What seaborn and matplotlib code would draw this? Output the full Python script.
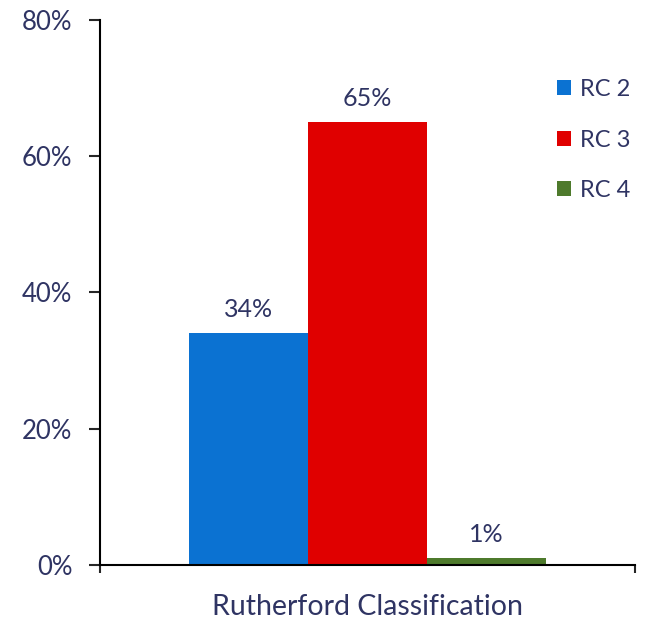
import matplotlib
matplotlib.use("Agg")
import matplotlib.pyplot as plt
import seaborn as sns
import pandas as pd

category = ["Rutherford Classification"]
groups = ["RC 2", "RC 3", "RC 4"]
shares = [34, 65, 1]
palette = ["#0B72D2", "#E00000", "#4E7A2C"]
text_color = "#2F3463"

sns.set_style("white")
plt.rcParams["font.family"] = ["Lato", "DejaVu Sans"]

df = pd.DataFrame({"cat": category * len(groups), "group": groups, "share": shares})

fig = plt.figure(figsize=(6.46, 6.21), dpi=100)
ax = fig.add_axes([0.155, 0.090, 0.828, 0.878])

sns.barplot(data=df, x="cat", y="share", hue="group", palette=palette,
            width=0.8, saturation=1, linewidth=0, ax=ax, legend=True)

for cont in ax.containers:
    ax.bar_label(cont, labels=[f"{v:.0f}%" for v in cont.datavalues],
                 padding=9, fontsize=18, color=text_color)

ax.set_ylim(0, 80)
ax.set_xlim(-0.6, 0.6)
ax.set_yticks([0, 20, 40, 60, 80])
ax.set_yticklabels([f"{t}%" for t in [0, 20, 40, 60, 80]])
ax.tick_params(axis="y", direction="out", length=8, width=1.5, left=True,
               labelsize=18.5, labelcolor=text_color, pad=12)
ax.set_xticks([-0.6, 0.6])
ax.set_xticklabels(["", ""])
ax.tick_params(axis="x", direction="out", length=6, width=1.5, bottom=True)
ax.set_xlabel("Rutherford Classification", fontsize=20.5, color=text_color, labelpad=11)
ax.set_ylabel("")

for side in ["top", "right"]:
    ax.spines[side].set_visible(False)
for side in ["left", "bottom"]:
    ax.spines[side].set_linewidth(1.5)
    ax.spines[side].set_color("black")

leg = ax.legend(loc="upper left", bbox_to_anchor=(0.815, 0.93), frameon=False,
                fontsize=17, labelspacing=1.25, handlelength=0.6, handleheight=0.6,
                handletextpad=0.35, labelcolor=text_color)

fig.savefig("out.png", dpi=100)
